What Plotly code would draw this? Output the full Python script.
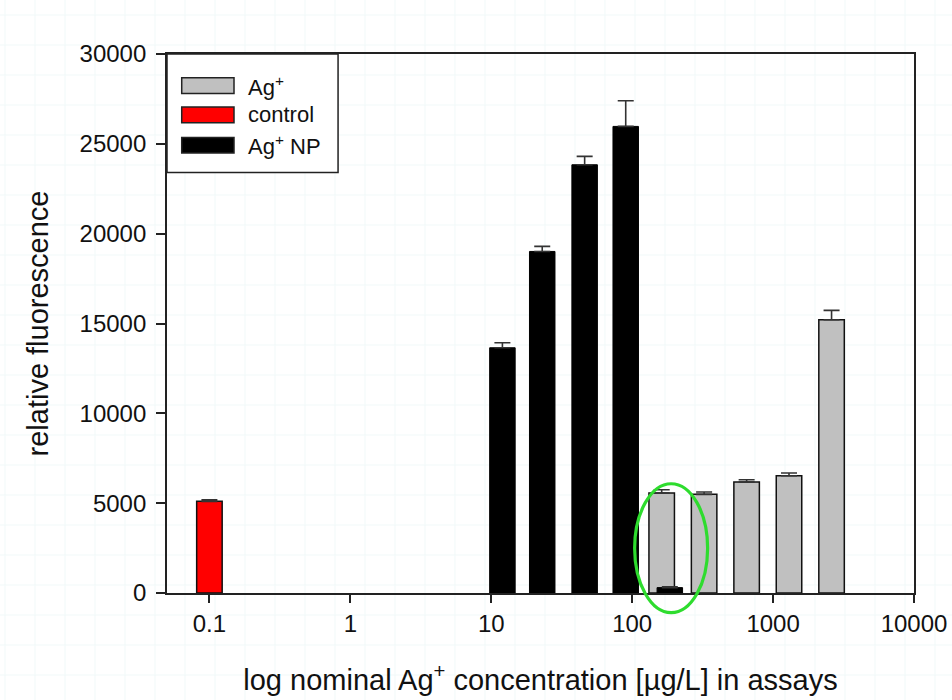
import numpy as np
import plotly.graph_objects as go

# Nominal Ag concentrations (µg/L) and measured relative fluorescence
control_conc = [0.1]
control_val = [5100]
control_err = [90]

np_conc = [12, 23, 46, 90, 185]
np_val = [13650, 19010, 23835, 25970, 300]
np_err = [280, 280, 465, 1430, 40]

ion_conc = [162, 324, 649, 1297, 2600]
ion_val = [5565, 5490, 6175, 6530, 15210]
ion_err = [185, 130, 130, 150, 520]

tick_vals = [0.1, 1, 10, 100, 1000, 10000]
tick_text = ["0.1", "1", "10", "100", "1000", "10000"]

legend_labels = ["Ag<sup>+</sup>", "control", "Ag<sup>+</sup> NP"]
legend_colors = ["#c0c0c0", "#ff0000", "#000000"]

FONT = "Liberation Sans, Arial, sans-serif"
BAR_W = 0.181  # bar width in decades
W, H = 952, 700
M_L, M_R, M_T, M_B = 167, 38, 54, 107


def err_bar(err):
    return dict(type="data", array=err, arrayminus=[0] * len(err),
                symmetric=False, color="#333333", thickness=1.6, width=8)


fig = go.Figure()
fig.add_trace(go.Bar(
    x=np.log10(ion_conc), y=ion_val, width=BAR_W, name="Ag+",
    marker=dict(color="#c0c0c0", line=dict(color="#111111", width=1.5)),
    error_y=err_bar(ion_err), showlegend=False))
fig.add_trace(go.Bar(
    x=np.log10(control_conc), y=control_val, width=BAR_W, name="control",
    marker=dict(color="#ff0000", line=dict(color="#111111", width=1.5)),
    error_y=err_bar(control_err), showlegend=False))
fig.add_trace(go.Bar(
    x=np.log10(np_conc), y=np_val, width=BAR_W, name="Ag+ NP",
    marker=dict(color="#000000", line=dict(color="#000000", width=1)),
    error_y=err_bar(np_err), showlegend=False))

shapes = []

# faint graph-paper texture on the page behind the plot area
pw, ph = W - M_L - M_R, H - M_T - M_B
page_x0, page_x1 = -M_L / pw, 1 + M_R / pw
page_y0, page_y1 = -M_B / ph, 1 + M_T / ph
segs = []
for px in range(5, W, 30):
    fx = (px - M_L) / pw
    segs.append(f"M{fx:.4f},{page_y0:.4f}V{page_y1:.4f}")
for py in range(15, H, 30):
    fy = (H - M_B - py) / ph
    segs.append(f"M{page_x0:.4f},{fy:.4f}H{page_x1:.4f}")
fig.add_shape(type="path", xref="paper", yref="paper", layer="below",
              path=" ".join(segs), line=dict(color="#f1f9f9", width=1))

# legend frame and swatches (paper coords relative to the plot area)
shapes.append(dict(type="rect", xref="paper", yref="paper",
                   x0=0, x1=0.229, y0=0.780, y1=1,
                   line=dict(color="#222222", width=1.5), fillcolor="white"))
sw_rows = [0.9413, 0.8871, 0.8307]
for yc, col in zip(sw_rows, legend_colors):
    shapes.append(dict(type="rect", xref="paper", yref="paper",
                       x0=0.0197, x1=0.0897, y0=yc - 0.0145, y1=yc + 0.0145,
                       line=dict(color="#222222", width=1.5), fillcolor=col))

# highlight ring around the Ag+ NP / Ag+ pair near 200 µg/L
shapes.append(dict(type="circle", xref="x", yref="paper",
                   x0=np.log10(ion_conc[0]) - 0.192, x1=np.log10(ion_conc[0]) + 0.326,
                   y0=-0.0365, y1=0.2027,
                   line=dict(color="#2edc2e", width=3.2)))

annotations = []
for yc, lab in zip(sw_rows, legend_labels):
    annotations.append(dict(xref="paper", yref="paper", x=0.106, y=yc,
                            text=lab, showarrow=False, xanchor="left",
                            yanchor="middle",
                            font=dict(family=FONT, size=22, color="#111111")))

for s in shapes:
    fig.add_shape(**s)

fig.update_layout(
    width=W, height=H,
    margin=dict(l=M_L, r=M_R, t=M_T, b=M_B, autoexpand=False),
    paper_bgcolor="white", plot_bgcolor="white",
    barmode="overlay",
    font=dict(family=FONT, color="#111111"),
    annotations=annotations,
)
fig.update_xaxes(
    range=[np.log10(0.05), 4], automargin=False,
    tickvals=np.log10(tick_vals), ticktext=tick_text,
    tickfont=dict(size=24, family=FONT),
    ticks="outside", ticklen=8, tickwidth=1.5, tickcolor="#222222",
    showline=True, linecolor="#222222", linewidth=1.8, mirror=True,
    showgrid=False, zeroline=False,
    title=dict(text="log nominal Ag<sup>+</sup> concentration [µg/L] in assays",
               font=dict(size=29, family=FONT), standoff=34),
)
fig.update_yaxes(
    range=[0, 30000], dtick=5000, tickformat="d", automargin=False,
    tickfont=dict(size=24, family=FONT), ticklabelstandoff=5,
    ticks="outside", ticklen=9, tickwidth=1.5, tickcolor="#222222",
    showline=True, linecolor="#222222", linewidth=1.8, mirror=True,
    showgrid=False, zeroline=False,
    title=dict(text="relative fluorescence", font=dict(size=29, family=FONT),
               standoff=22),
)

fig.write_html("out.html")
